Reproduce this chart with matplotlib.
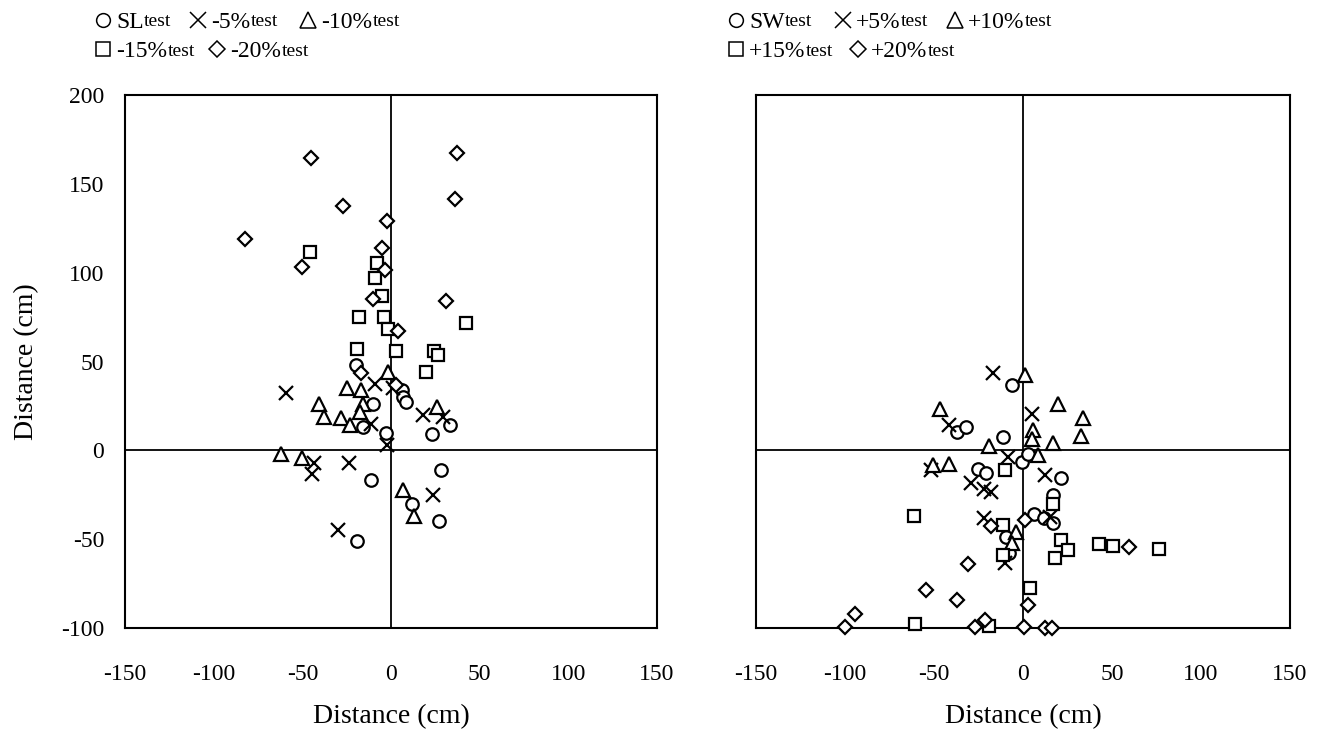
import matplotlib
matplotlib.use("Agg")
import matplotlib.pyplot as plt
from matplotlib.lines import Line2D

plt.rcParams['font.family'] = ['Liberation Serif', 'DejaVu Serif']
plt.rcParams['axes.unicode_minus'] = False

# ---- Left panel data (SL tests) ----
sl_x = [-20, -10, -16, -3, 6, 7, 8.5, 23, 33.5, 28, 12, 27, -11, -19]
sl_y = [48, 26, 13, 10, 34, 30, 27, 9, 14.5, -11, -30, -40, -16.5, -51]

m5_x = [-59, -9, 1, -11, -2.5, 18, 29.5, -43.5, -44.5, -23.5, 23.5, -30]
m5_y = [32.5, 37.5, 35, 15, 3, 20, 19, -7, -13.5, -7, -25, -45]

m10_x = [-25, -17, -16, -40.5, -38, -28, -23, -17.5, -1.5, 26, -62, -50, 6.5, 13]
m10_y = [35, 34, 26, 26, 19, 18, 14.5, 21.5, 44, 24.5, -2, -4.5, -22.5, -37]

m15_x = [-45.5, -8, -9, -5, -18, -4, -1.5, -19.3, 3, 24, 26.7, 20, 42.3]
m15_y = [111.5, 105.5, 97, 87, 75, 75, 68.5, 57, 56, 56, 53.5, 44, 71.5]

m20_x = [-45.3, -27, -82.3, -50.4, -2, -4.8, -3.5, -10, 4, 37.4, 36.3, 31, -17, 3]
m20_y = [164.6, 137.4, 119, 103, 129, 114, 101.5, 85, 67, 167.4, 141.5, 84, 43.7, 37]

# ---- Right panel data (SW tests) ----
sw_x = [-6, -37, -32, -11, -0.5, 2.8, -25.5, -21, 21.5, 16.7, 6.2, 11.8, 16.9, -9.5, -8]
sw_y = [36.5, 10.3, 13, 7.5, -6.5, -2, -10.3, -13, -15.4, -25.3, -36, -38, -41, -48.5, -57.8]

p5_x = [-17, 5, -41.3, -8.6, -51.6, 12.2, -29, -21.7, -18, -22, 15, -10]
p5_y = [43.5, 20.3, 14.5, -3.8, -11.3, -14, -18.4, -22, -23.5, -37.9, -37.5, -63.4]

p10_x = [1, 19.7, 33.7, 32.8, 5.6, 5, 16.9, -19.3, -46.9, -50.7, -41.4, 8.4, -3.8, -6.4]
p10_y = [42.5, 26.3, 18.4, 7.9, 11.6, 6.6, 4.1, 2.3, 23.5, -8.4, -7.9, -2.8, -46, -52]

p15_x = [-10, -61, -11, 16.7, 21.5, 25, 17.8, 42.5, 50.4, 76.4, -11, 4.1, -60.6, -19.3]
p15_y = [-11, -37, -42.2, -30.4, -50.7, -56.3, -60.4, -52.5, -54, -55.4, -59, -77.3, -97.6, -99]

p20_x = [-18.2, 1.3, -31, -54.7, -37.3, -94.6, -99.8, -26.8, -21.6, 0.5, 3, 12.2, 16.3, 59.3]
p20_y = [-42.8, -39, -64.2, -78.4, -84.5, -92.3, -99.5, -99.5, -95.7, -99.5, -87.3, -99.9, -99.9, -54.4]

left_labels = ["SL", "-5%", "-10%", "-15%", "-20%"]
right_labels = ["SW", "+5%", "+10%", "+15%", "+20%"]
label_suffix = "test"
markers = ["o", "x", "^", "s", "D"]
msizes = [9, 10, 10, 9, 7.5]

xticks = [-150, -100, -50, 0, 50, 100, 150]
yticks = [-100, -50, 0, 50, 100, 150, 200]

W, H = 1324, 745
fig = plt.figure(figsize=(W / 100, H / 100), dpi=100)
axL = fig.add_axes([125 / W, 1 - 628 / H, 532 / W, 533 / H])
axR = fig.add_axes([756 / W, 1 - 628 / H, 534 / W, 533 / H])

left_sets = [(sl_x, sl_y), (m5_x, m5_y), (m10_x, m10_y), (m15_x, m15_y), (m20_x, m20_y)]
right_sets = [(sw_x, sw_y), (p5_x, p5_y), (p10_x, p10_y), (p15_x, p15_y), (p20_x, p20_y)]


def draw(ax, sets, show_y):
    ax.axhline(0, color='black', lw=1.3, zorder=1)
    ax.axvline(0, color='black', lw=1.3, zorder=1)
    for (xs, ys), mk, ms in zip(sets, markers, msizes):
        if mk == "x":
            ax.plot(xs, ys, linestyle='none', marker=mk, ms=ms, mew=1.6,
                    color='black', zorder=3, clip_on=False)
        else:
            ax.plot(xs, ys, linestyle='none', marker=mk, ms=ms, mew=1.6,
                    mfc='white', mec='black', zorder=3, clip_on=False)
    ax.set_xlim(-150, 150)
    ax.set_ylim(-100, 200)
    ax.set_xticks(xticks)
    ax.set_yticks(yticks)
    ax.tick_params(length=0, labelsize=17, pad=26, axis='x')
    ax.tick_params(length=0, labelsize=17, pad=15, axis='y')
    if not show_y:
        ax.set_yticklabels([])
    for s in ax.spines.values():
        s.set_linewidth(1.5)
    ax.set_xlabel("Distance (cm)", fontsize=20, labelpad=14)
    if show_y:
        ax.set_ylabel("Distance (cm)", fontsize=20, labelpad=16)


draw(axL, left_sets, True)
draw(axR, right_sets, False)

# manual legends: (marker centre x px, y px) per entry
left_pos = [(103, 20), (198, 20), (308, 20), (103, 49), (217, 49)]
right_pos = [(736, 20), (843, 20), (955, 20), (736, 49), (858, 49)]

fig.canvas.draw()
renderer = fig.canvas.get_renderer()


def legend(labels, positions):
    for lab, (px, py), mk, ms in zip(labels, positions, markers, msizes):
        fx, fy = px / W, 1 - py / H
        fc = 'black' if mk == 'x' else 'white'
        fig.add_artist(Line2D([fx], [fy], transform=fig.transFigure, linestyle='none',
                              marker=mk, ms=ms * 1.1, mew=1.1, mfc=fc, mec='black'))
        t = fig.text((px + 13) / W, fy, lab, fontsize=17, va='center_baseline', ha='left')
        bb = t.get_window_extent(renderer)
        fig.text((bb.x1 + 0.5) / W, fy, label_suffix, fontsize=14,
                 va='center_baseline', ha='left')


legend(left_labels, left_pos)
legend(right_labels, right_pos)

fig.savefig("out.png", dpi=100)
